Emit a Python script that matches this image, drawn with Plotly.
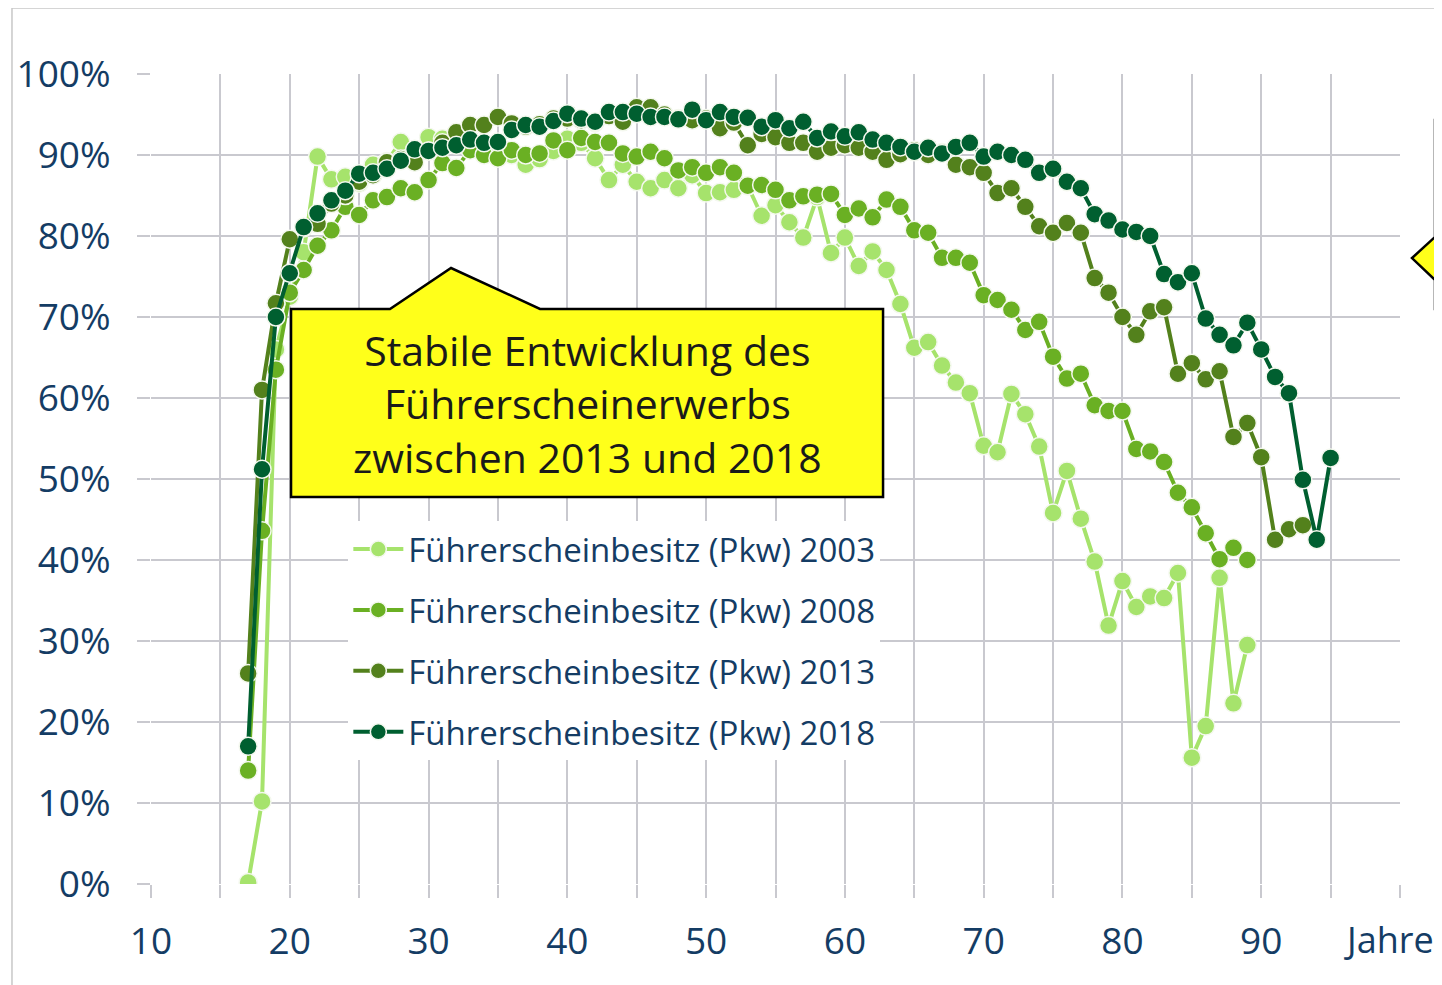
import plotly.graph_objects as go

ages_2003 = list(range(17, 90))
vals_2003 = [0.2, 10.2, 66, 72.5, 78, 89.8, 87, 87.3, 86.5, 88.8, 89.2, 91.6, 90.5, 92.2, 92, 91.5,
             91, 91, 90.5, 90, 88.8, 89.5, 90.5, 92, 91.5, 89.6, 86.9, 88.8, 86.7, 85.9, 86.9, 85.9,
             87.5, 85.3, 85.4, 85.7, 86.2, 82.5, 83.8, 81.7, 79.8, 84.8, 77.9, 79.8, 76.3, 78.1, 75.8,
             71.6, 66.2, 66.9, 64, 61.9, 60.6, 54.1, 53.3, 60.5, 58, 54, 45.8, 51, 45.1, 39.8, 31.9,
             37.4, 34.2, 35.5, 35.3, 38.4, 15.6, 19.5, 37.8, 22.3, 29.5]

ages_2008 = list(range(17, 90))
vals_2008 = [14, 43.6, 63.5, 73, 75.8, 78.8, 80.7, 83.6, 82.6, 84.4, 84.8, 85.9, 85.4, 86.9, 89, 88.4,
             90.6, 90, 89.6, 90.6, 90, 90.2, 91.8, 90.6, 92.1, 91.6, 91.5, 90.2, 89.8, 90.4, 89.6, 88.1,
             88.5, 87.8, 88.5, 87.8, 86.2, 86.3, 85.7, 84.4, 84.9, 85.1, 85.2, 82.6, 83.4, 82.3, 84.5,
             83.6, 80.7, 80.4, 77.3, 77.3, 76.7, 72.7, 72.1, 70.9, 68.4, 69.4, 65.1, 62.4, 63, 59.1,
             58.4, 58.4, 53.7, 53.4, 52.1, 48.3, 46.5, 43.3, 40.1, 41.5, 40]

ages_2013 = list(range(17, 94))
vals_2013 = [26, 61, 71.7, 79.6, 81, 81.5, 84, 85, 86.7, 87.5, 89.1, 89.5, 89.1, 90.5, 91.5, 92.8,
             93.7, 93.7, 94.7, 93.9, 93.5, 93.8, 94.5, 94.5, 94.3, 94, 94.8, 94.1, 95.9, 95.9, 95,
             94.5, 94.3, 94.5, 93.3, 94, 91.2, 92.6, 92.2, 91.5, 91.5, 90.4, 90.9, 91.2, 90.9, 90.4,
             89.4, 90.1, 90.6, 90, 90.3, 88.8, 88.5, 87.8, 85.3, 85.9, 83.6, 81.2, 80.4, 81.6, 80.4,
             74.8, 73, 70, 67.8, 70.7, 71.2, 63, 64.3, 62.3, 63.3, 55.2, 56.9, 52.7, 42.5, 43.8, 44.3]

ages_2018 = list(range(17, 96))
vals_2018 = [17, 51.2, 70, 75.4, 81.1, 82.8, 84.4, 85.6, 87.7, 87.8, 88.3, 89.3, 90.7, 90.5, 90.9,
             91.2, 91.9, 91.5, 91.6, 93.1, 93.7, 93.5, 94.2, 95.1, 94.5, 94.1, 95.3, 95.3, 95.1, 94.7,
             94.7, 94.4, 95.6, 94.3, 95.3, 94.7, 94.6, 93.5, 94.3, 93.3, 94.1, 92.1, 92.9, 92.3, 92.8,
             91.9, 91.5, 91, 90.4, 90.9, 90.2, 91, 91.5, 89.8, 90.4, 90, 89.4, 87.8, 88.3, 86.7, 85.9,
             82.7, 81.9, 80.8, 80.5, 80, 75.3, 74.3, 75.4, 69.8, 67.8, 66.5, 69.3, 66, 62.6, 60.6,
             49.9, 42.5, 52.6]

series_names = ["Führerscheinbesitz (Pkw) 2003", "Führerscheinbesitz (Pkw) 2008",
                "Führerscheinbesitz (Pkw) 2013", "Führerscheinbesitz (Pkw) 2018"]
series_colors = ["#A6E36C", "#6AB023", "#53811C", "#005F30"]

x_tick_vals = [10, 20, 30, 40, 50, 60, 70, 80, 90]
x_tick_text = ["10", "20", "30", "40", "50", "60", "70", "80", "90"]
x_axis_unit = "Jahre"
y_tick_vals = [0, 10, 20, 30, 40, 50, 60, 70, 80, 90, 100]
y_tick_text = ["0%", "10%", "20%", "30%", "40%", "50%", "60%", "70%", "80%", "90%", "100%"]

callout_text = "Stabile Entwicklung des<br>Führerscheinerwerbs<br>zwischen 2013 und 2018"

TXT = "#143C64"
GRID = "#C9C9CF"

fig = go.Figure()
for name, col, xs, ys in zip(series_names, series_colors,
                             [ages_2003, ages_2008, ages_2013, ages_2018],
                             [vals_2003, vals_2008, vals_2013, vals_2018]):
    fig.add_trace(go.Scatter(
        x=xs, y=ys, name=name, mode="lines+markers", legendgroup=name,
        line=dict(color=col, width=4),
        marker=dict(color=col, size=18, line=dict(color="#F4F8EE", width=1.5)),
    ))

# callout shapes (left box with pointer up, right box partly out of view)
fig.add_shape(type="path", xref="x", yref="y",
              path="M 20.09 70.99 L 27.22 70.99 L 31.62 76.05 L 38.03 70.99 L 62.75 70.99 "
                   "L 62.75 47.78 L 20.09 47.78 Z",
              fillcolor="#FFFF1A", line=dict(color="#000000", width=2.5), layer="above")
fig.add_shape(type="path", xref="paper", yref="paper",
              path="M 1.028 0.9432 L 1.06 0.9432 L 1.06 0.7099 L 1.028 0.7099 L 1.028 0.7457 "
                   "L 1.0096 0.7728 L 1.028 0.7988 Z",
              fillcolor="#FFFF1A", line=dict(color="#000000", width=2.5), layer="above")
# outer frame
fig.add_shape(type="rect", xref="paper", yref="paper", x0=-0.1113, x1=1.2, y0=-0.3, y1=1.0815,
              line=dict(color="#C8C8C8", width=1.5), fillcolor="rgba(0,0,0,0)", layer="below")

fig.add_annotation(x=41.42, y=59.38, xref="x", yref="y", text=callout_text, showarrow=False,
                   font=dict(family="Open Sans", size=41, color="#1A1A1A"), align="center")
fig.add_annotation(x=0.991, y=-0.069, xref="paper", yref="paper", text=x_axis_unit,
                   showarrow=False, font=dict(family="Open Sans", size=36, color=TXT),
                   xanchor="center", yanchor="middle")

# page body has an 8px default margin; compensate so the plot area lands where it should
fig.update_layout(
    width=1434, height=977,
    margin=dict(l=143, r=42, t=66, b=101, autoexpand=False),
    paper_bgcolor="white", plot_bgcolor="white",
    font=dict(family="Open Sans", color=TXT),
    showlegend=True,
    legend=dict(x=0.158, y=0.448, xanchor="left", yanchor="top",
                bgcolor="white", font=dict(size=33, color=TXT, family="Open Sans"),
                tracegroupgap=15, itemwidth=50),
    xaxis=dict(range=[10, 100], tickvals=x_tick_vals, ticktext=x_tick_text,
               showgrid=True, gridcolor=GRID, gridwidth=1.5, automargin=False,
               minor=dict(dtick=5, showgrid=True, gridcolor=GRID, gridwidth=1.5,
                          ticks="outside", ticklen=13, tickcolor=GRID),
               ticks="outside", ticklen=13, tickcolor=GRID, tickwidth=1.5,
               tickfont=dict(size=37, color=TXT), zeroline=False, showline=False,
               ticklabelstandoff=12),
    yaxis=dict(range=[0, 100], tickvals=y_tick_vals, ticktext=y_tick_text,
               showgrid=True, gridcolor=GRID, gridwidth=1.5, automargin=False,
               ticks="outside", ticklen=13, tickcolor=GRID, tickwidth=1.5,
               tickfont=dict(size=37, color=TXT), zeroline=False, showline=False,
               ticklabelstandoff=19),
)

fig.write_html("out.html")
